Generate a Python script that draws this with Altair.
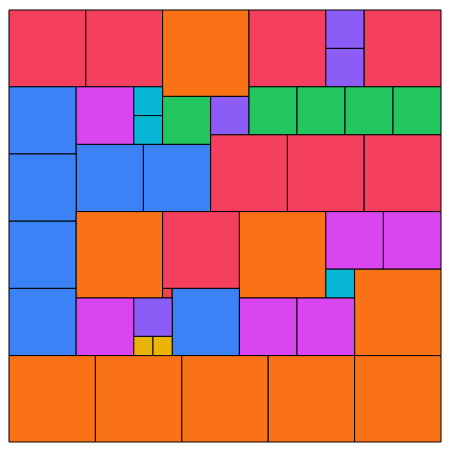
import altair as alt
import pandas as pd

# Square tiles: left edge, top edge, side length (all in the 0..450 layout units)
xs = [0, 80, 160, 250, 330, 330, 370,
      0, 70, 130, 130, 160, 210, 250, 300, 350, 400,
      70, 140, 210, 290, 370,
      0, 0, 0,
      70, 160, 240, 330, 390, 330, 360,
      160, 170, 70, 130, 130, 150, 240, 300,
      0, 90, 180, 270, 360]
ys = [0, 0, 0, 0, 0, 40, 0,
      80, 80, 80, 110, 90, 90, 80, 80, 80, 80,
      140, 140, 130, 130, 130,
      150, 220, 290,
      210, 210, 210, 210, 210, 270, 270,
      290, 290, 300, 300, 340, 340, 300, 300,
      360, 360, 360, 360, 360]
sides = [80, 80, 90, 80, 40, 40, 80,
         70, 60, 30, 30, 50, 40, 50, 50, 50, 50,
         70, 70, 80, 80, 80,
         70, 70, 70,
         90, 80, 90, 60, 60, 30, 90,
         10, 70, 60, 40, 20, 20, 60, 60,
         90, 90, 90, 90, 90]

size_domain = [90, 80, 70, 60, 50, 40, 30, 20, 10]
size_colors = ["#f97316", "#f43f5e", "#3b82f6", "#d946ef", "#22c55e",
               "#8b5cf6", "#06b6d4", "#eab308", "#ef4444"]

df = pd.DataFrame({"x": xs, "y": ys, "side": sides})
df["x2"] = df["x"] + df["side"]
df["y2"] = df["y"] + df["side"]

W = 434

chart = (
    alt.Chart(df)
    .mark_rect(stroke="black", strokeWidth=1)
    .encode(
        x=alt.X("x:Q", scale=alt.Scale(domain=[0, 450], nice=False, zero=False), axis=None),
        x2="x2:Q",
        y=alt.Y("y:Q", scale=alt.Scale(domain=[0, 450], nice=False, zero=False, reverse=True), axis=None),
        y2="y2:Q",
        color=alt.Color("side:O", scale=alt.Scale(domain=size_domain, range=size_colors), legend=None),
    )
    .properties(width=W, height=W, padding=0)
    .configure_view(stroke=None)
)

chart.save("out.html", embed_options={"renderer": "svg", "actions": False})
